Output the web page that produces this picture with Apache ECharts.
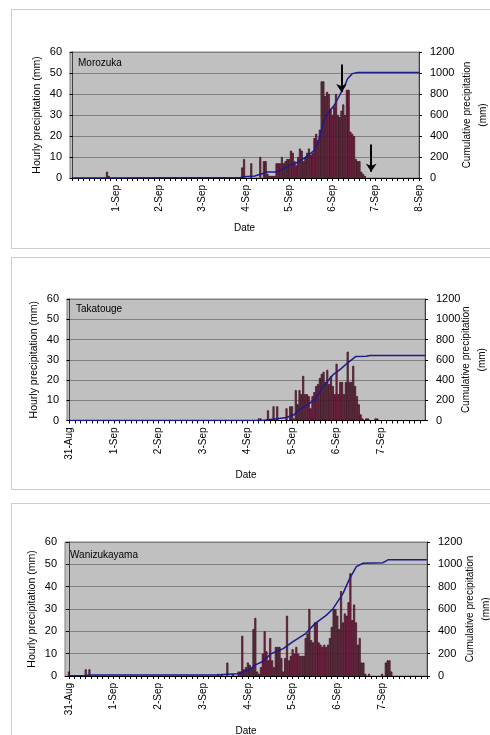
<!DOCTYPE html>
<html>
<head>
<meta charset="utf-8">
<script src="https://cdn.jsdelivr.net/npm/echarts@6/dist/echarts.min.js"></script>
<style>
body { margin: 0; width: 490px; height: 735px; background: #fff; overflow: hidden; position: relative; }
.panel { position: absolute; left: 11px; width: 500px; border: 1px solid #cccccc; background: #fff; }
#p1 { top: 9px; height: 238px; }
#p2 { top: 257px; height: 231px; }
#p3 { top: 503px; height: 240px; }
</style>
</head>
<body>
<div class="panel" id="p1"></div>
<div class="panel" id="p2"></div>
<div class="panel" id="p3"></div>
<script>
// x values are hours counted from 31-Aug 00:00
const dayLabels = ['31-Aug', '1-Sep', '2-Sep', '3-Sep', '4-Sep', '5-Sep', '6-Sep', '7-Sep', '8-Sep']

// Morozuka
const moroEarlyHours = [19, 20]
const moroEarlyRain = [3, 1]
const moroRainStart = 94
const moroRain = [5, 9, 0, 0, 0, 7, 0, 0, 0, 0,
  10, 0, 8, 8, 2, 1, 1, 1, 1,
  7, 7, 7, 10, 7, 8, 9, 9, 13, 12, 8, 6, 10, 14, 13, 8, 10, 12, 14, 11, 12, 19, 21, 18, 23,
  46, 46, 39, 41, 40, 33, 30, 34, 40, 30, 29, 32, 35, 30, 42, 42, 22, 21, 20, 9, 8, 8, 3, 2, 1]
const moroCumHours = [0, 19, 20, 93, 95, 101, 104, 108, 113, 115, 119, 124, 128, 131, 134, 136, 137.6, 139.4, 142, 145, 147, 149, 150.5, 152.4, 155, 158, 192]
const moroCum = [0, 0, 4, 4, 13, 19, 35, 57, 57, 73, 111, 143, 185, 222, 264, 343, 438, 550, 629, 692, 756, 820, 867, 946, 994, 1005, 1005]
const moroArrowHours = [149, 165.5]
const moroArrowFrom = [54, 16]
const moroArrowTo = [41, 3]

// Takatouge
const takaRainStart = 102
const takaRain = [1, 1, 0, 0, 0, 5, 0, 0, 7, 0, 7, 0, 0, 0, 0, 6, 0, 7, 7, 1,
  15, 8, 15, 13, 22, 13, 13, 12, 6, 12,
  14, 17, 18, 21, 23, 24, 19, 25, 18, 22, 17, 13,
  28, 13, 19, 19, 13, 19, 34, 19, 19, 27, 17, 12, 8, 3,
  1, 0, 1, 1, 0, 0, 0, 1, 1]
const takaCumHours = [0, 104, 107, 114, 117, 121, 124, 128, 132, 135, 139, 142, 146, 150, 154.5, 160, 162, 192]
const takaCum = [0, 0, 7, 23, 30, 56, 105, 155, 200, 285, 385, 450, 505, 570, 633, 635, 642, 642]

// Wanizukayama
const waniSparseHours = [0, 9, 11, 80, 82, 85, 88, 91, 92, 168, 170, 171, 172, 173]
const waniSparseRain = [2, 3, 3, 1, 1, 6, 1, 2, 2, 1, 6, 7, 7, 2]
const waniRainStart = 93
const waniRain = [18, 3, 4, 6, 5, 4, 21, 26, 2, 1, 4, 10, 20, 11, 7, 17, 7, 4, 13, 13,
  13, 8, 2, 8, 27, 7, 9, 12, 10, 13, 10, 9, 9, 9, 17, 19, 30,
  16, 15, 24, 24, 15, 14, 13, 14, 13, 14, 17, 22, 30, 30, 27, 21, 38, 24, 28, 27,
  33, 46, 25, 32, 24, 14, 17, 6, 6, 1, 0, 1]
const waniCumHours = [0, 9, 11, 80, 85, 91, 94, 97, 100, 104, 108.5, 115, 120, 127, 132, 138, 141.7, 147, 150.6, 154.2, 157.8, 168.5, 171.2, 192]
const waniCum = [2, 5, 8, 9, 16, 21, 40, 55, 100, 130, 200, 245, 305, 380, 469, 543, 603, 738, 872, 980, 1010, 1015, 1040, 1040]

const FONT = '"Liberation Sans", Arial, sans-serif'

function pairs(hours, vals) {
  return hours.map((h, i) => [h, vals[i]])
}
function run(start, vals) {
  return vals.map((v, i) => [start + i, v])
}

let tickHours = []
for (let h = 0; h <= 192; h += 3) tickHours.push(h)

function buildOption(p) {
  return {
    animation: false,
    textStyle: { fontFamily: FONT },
    title: {
      text: p.name,
      left: p.titleLeft,
      top: p.titleTop,
      padding: 0,
      textStyle: { fontSize: 10, fontWeight: 'normal', color: '#000', fontFamily: FONT }
    },
    grid: {
      left: p.grid[0], top: p.grid[1], width: p.grid[2], height: p.grid[3],
      show: true,
      backgroundColor: '#c0c0c0',
      borderColor: '#808080',
      borderWidth: 1
    },
    xAxis: {
      type: 'value',
      min: p.xMin,
      max: p.xMax,
      name: 'Date',
      nameLocation: 'middle',
      nameGap: p.dateGap,
      nameMoveOverlap: false,
      nameTextStyle: { fontSize: 10, color: '#000', fontFamily: FONT },
      axisLine: { lineStyle: { color: '#000', width: 1 } },
      axisTick: { show: true, length: 3, customValues: tickHours, lineStyle: { color: '#000' } },
      axisLabel: {
        customValues: p.labelHours,
        rotate: 90,
        margin: 7,
        fontSize: 10,
        color: '#000',
        fontFamily: FONT,
        formatter: v => dayLabels[Math.round(v / 24)]
      },
      splitLine: { show: false }
    },
    yAxis: [
      {
        type: 'value', min: 0, max: 60, interval: 10,
        name: 'Hourly precipitation (mm)',
        nameLocation: 'middle',
        nameRotate: 90,
        nameGap: 27,
        nameMoveOverlap: false,
        nameTextStyle: { fontSize: 10.5, color: '#000', fontFamily: FONT },
        axisLine: { show: true, lineStyle: { color: '#404040' } },
        axisTick: { show: true, length: 3, lineStyle: { color: '#000' } },
        axisLabel: { margin: 8, fontSize: 11, color: '#000', fontFamily: FONT },
        splitLine: { show: true, lineStyle: { color: '#808080', width: 1 } }
      },
      {
        type: 'value', min: 0, max: 1200, interval: 200,
        position: 'right',
        name: 'Cumulative precipitation\n(mm)',
        nameLocation: 'middle',
        nameRotate: 90,
        nameGap: p.cumGap,
        nameMoveOverlap: false,
        nameTextStyle: { fontSize: 10, color: '#000', fontFamily: FONT, lineHeight: 16 },
        axisLine: { show: true, lineStyle: { color: '#404040' } },
        axisTick: { show: true, length: 3, lineStyle: { color: '#000' } },
        axisLabel: { margin: 11, fontSize: 11, color: '#000', fontFamily: FONT, formatter: v => String(v) },
        splitLine: { show: false }
      }
    ],
    series: [
      {
        type: 'bar',
        data: p.bars.filter(d => d[1] > 0),
        barWidth: 2,
        itemStyle: { color: '#8f3159', borderColor: '#2e0716', borderWidth: 0.7 },
        markLine: p.arrows ? {
          silent: true,
          symbol: ['none', 'arrow'],
          symbolSize: 8,
          label: { show: false },
          lineStyle: { color: '#000', width: 2, type: 'solid' },
          data: p.arrows
        } : undefined
      },
      {
        type: 'line',
        yAxisIndex: 1,
        data: p.cum,
        showSymbol: false,
        lineStyle: { color: '#1c1c8c', width: 1.5 },
        itemStyle: { color: '#1c1c8c' }
      }
    ]
  }
}

const panels = [
  {
    el: 'p1', name: 'Morozuka', titleLeft: 66, titleTop: 48,
    grid: [58, 42, 349, 126], xMin: -1.5, xMax: 192, dateGap: 45, cumGap: 40,
    labelHours: [24, 48, 72, 96, 120, 144, 168, 192],
    bars: run(moroRainStart, moroRain).concat(pairs(moroEarlyHours, moroEarlyRain)),
    cum: pairs(moroCumHours, moroCum),
    arrows: moroArrowHours.map((h, i) => [{ coord: [h, moroArrowFrom[i]] }, { coord: [h, moroArrowTo[i]] }])
  },
  {
    el: 'p2', name: 'Takatouge', titleLeft: 64, titleTop: 46,
    grid: [55, 41, 358, 121.5], xMin: -1.4, xMax: 191.7, dateGap: 50, cumGap: 33,
    labelHours: [0, 24, 48, 72, 96, 120, 144, 168],
    bars: run(takaRainStart, takaRain),
    cum: pairs(takaCumHours, takaCum)
  },
  {
    el: 'p3', name: 'Wanizukayama', titleLeft: 58, titleTop: 46.5,
    grid: [53, 38, 362, 134], xMin: -2.1, xMax: 192.1, dateGap: 50, cumGap: 35,
    labelHours: [0, 24, 48, 72, 96, 120, 144, 168],
    bars: run(waniRainStart, waniRain).concat(pairs(waniSparseHours, waniSparseRain)),
    cum: pairs(waniCumHours, waniCum)
  }
]

panels.forEach(p => {
  const chart = echarts.init(document.getElementById(p.el))
  chart.setOption(buildOption(p))
})
</script>
</body>
</html>
